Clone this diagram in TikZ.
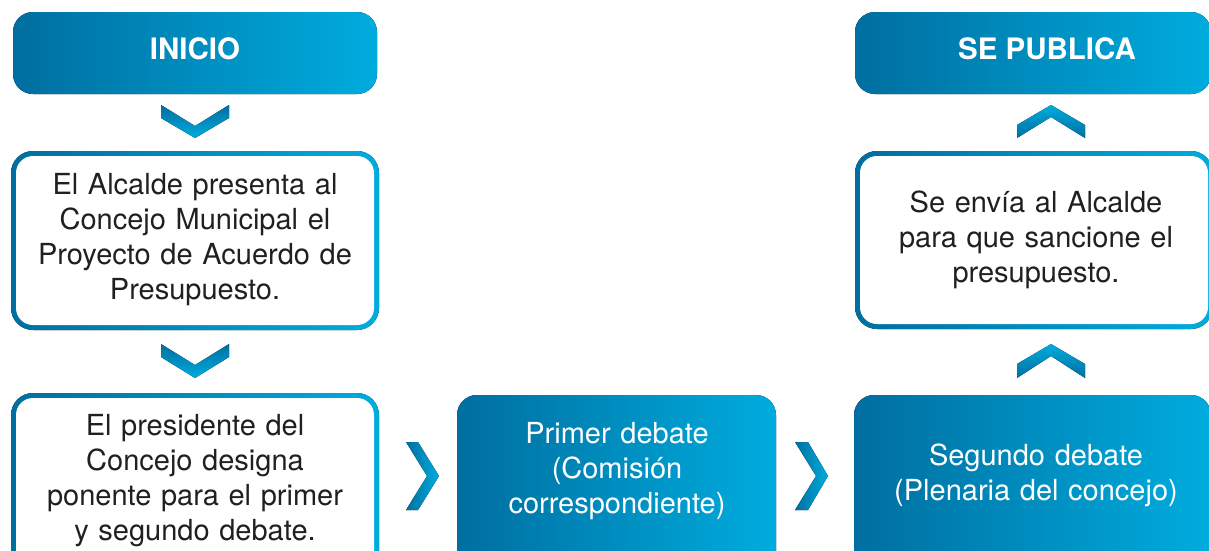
\documentclass[tikz,border=0pt]{standalone}
\usepackage{fontspec}
\setmainfont{TeX Gyre Heros}
\definecolor{bdark}{RGB}{0,110,160}
\definecolor{blight}{RGB}{0,172,222}
\definecolor{txt}{RGB}{35,31,32}
\begin{document}
\begin{tikzpicture}[x=1pt,y=-1pt,
  hshade/.style={left color=bdark,right color=blight},
  downshade/.style={top color=bdark,bottom color=blight},
  upshade/.style={top color=blight,bottom color=bdark},
  bodytext/.style={anchor=base,text width=360pt,align=center,inner sep=0pt,
    font=\fontsize{29}{35.3}\selectfont,text=txt},
  whitetext/.style={bodytext,text=white},
  headtext/.style={anchor=base,inner sep=0pt,font=\fontsize{29.5}{35}\selectfont\bfseries,text=white}]
\useasboundingbox (0,0) rectangle (1209,550);
\clip (0,0) rectangle (1209,550);

% blue heading boxes
\fill[hshade,rounded corners=20pt] (13,12) rectangle (377,94);
\fill[hshade,rounded corners=20pt] (855,12) rectangle (1211,94);

% outlined white boxes
\fill[hshade,rounded corners=22pt] (11,151) rectangle (379,330);
\fill[white,rounded corners=17pt] (16,156) rectangle (374,325);
\fill[hshade,rounded corners=22pt] (11,393) rectangle (379,580);
\fill[white,rounded corners=17pt] (16,398) rectangle (374,575);
\fill[hshade,rounded corners=22pt] (855,151) rectangle (1213,329);
\fill[white,rounded corners=17pt] (860,156) rectangle (1208,324);

% blue debate boxes
\fill[hshade,rounded corners=20pt] (457,395) rectangle (776,580);
\fill[hshade,rounded corners=20pt] (854,395) rectangle (1211,580);

% down chevrons
\fill[downshade] (161,105) -- (195,126) -- (229,105) -- (229,118) -- (195,138) -- (161,118) -- cycle;
\fill[downshade] (161,344) -- (195,365) -- (229,344) -- (229,357) -- (195,378) -- (161,357) -- cycle;
% up chevrons
\fill[upshade] (1017,125) -- (1051,105) -- (1085,125) -- (1085,138) -- (1051,117) -- (1017,138) -- cycle;
\fill[upshade] (1017,364) -- (1051,344) -- (1085,364) -- (1085,378) -- (1051,356) -- (1017,378) -- cycle;
% right chevrons
\fill[hshade] (406,442) -- (418,442) -- (439,476) -- (418,510) -- (406,510) -- (427,476) -- cycle;
\fill[hshade] (795,442) -- (808,442) -- (828,476) -- (808,510) -- (795,510) -- (816,476) -- cycle;

% texts
\node[headtext] (inicio) at (195,59) {INICIO};
\node[headtext] (publica) at (1047,59) {SE PUBLICA};
\node[bodytext] (alcalde) at (195,194) {El Alcalde presenta al\\Concejo Municipal el\\Proyecto de Acuerdo de\\Presupuesto.};
\node[bodytext] (presidente) at (195,435) {El presidente del\\Concejo designa\\ponente para el primer\\y segundo debate.};
\node[whitetext] (primer) at (617,443) {Primer debate\\(Comisión\\correspondiente)};
\node[whitetext] (segundo) at (1036,465) {Segundo debate\\(Plenaria del concejo)};
\node[bodytext] (envia) at (1036,212) {Se envía al Alcalde\\para que sancione el\\presupuesto.};
\end{tikzpicture}
\end{document}
